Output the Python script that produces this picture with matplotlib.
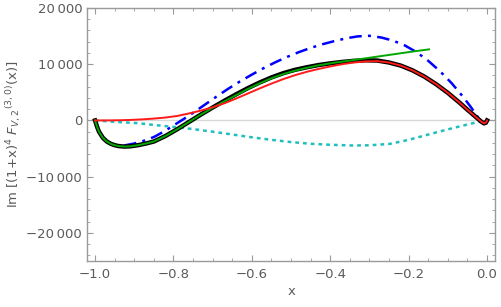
import matplotlib
matplotlib.use("Agg")
import matplotlib.pyplot as plt
from matplotlib.ticker import FixedLocator, MultipleLocator, FuncFormatter

# full result (black)
x_full = [-1.0, -0.995, -0.99, -0.98, -0.97, -0.96, -0.95, -0.94, -0.925, -0.91, -0.89, -0.87,
          -0.85, -0.82, -0.79, -0.76, -0.73, -0.70, -0.67, -0.64, -0.61, -0.58, -0.55, -0.52,
          -0.49, -0.46, -0.43, -0.40, -0.37, -0.34, -0.31, -0.28, -0.25, -0.22, -0.19, -0.16,
          -0.13, -0.10, -0.07, -0.05, -0.035, -0.025, -0.015, -0.008, -0.003, 0.0]
y_full = [0, -1100, -2000, -3100, -3750, -4150, -4400, -4560, -4650, -4600, -4400, -4100,
          -3750, -2750, -1550, -250, 1050, 2300, 3500, 4650, 5750, 6750, 7650, 8400,
          9000, 9450, 9850, 10150, 10400, 10600, 10700, 10650, 10300, 9750, 8900, 7800,
          6450, 4900, 3150, 1900, 1000, 400, -200, -520, -400, 0]

# expansion near threshold (green)
x_thr = [-1.0, -0.995, -0.99, -0.98, -0.97, -0.96, -0.95, -0.94, -0.925, -0.91, -0.89, -0.87,
         -0.85, -0.82, -0.79, -0.76, -0.73, -0.70, -0.67, -0.64, -0.61, -0.58, -0.55, -0.52,
         -0.49, -0.46, -0.43, -0.40, -0.37, -0.34, -0.31, -0.28, -0.25, -0.22, -0.19, -0.16, -0.148]
y_thr = [0, -1100, -2000, -3100, -3750, -4150, -4400, -4560, -4650, -4600, -4400, -4100,
         -3750, -2750, -1550, -250, 1050, 2250, 3400, 4500, 5600, 6600, 7500, 8250,
         8850, 9350, 9800, 10150, 10450, 10750, 11050, 11350, 11650, 11950, 12250, 12530, 12640]

# expansion (red)
x_exp = [-1.0, -0.97, -0.94, -0.91, -0.88, -0.85, -0.82, -0.79, -0.76, -0.73, -0.70, -0.67,
         -0.64, -0.61, -0.58, -0.55, -0.52, -0.49, -0.46, -0.43, -0.40, -0.37, -0.34, -0.31,
         -0.28, -0.25, -0.22, -0.19, -0.16, -0.13, -0.10, -0.07, -0.05, -0.035, -0.025, -0.015,
         -0.008, -0.003, 0.0]
y_exp = [0, 5, 30, 90, 190, 330, 520, 800, 1250, 1750, 2350, 3050,
         3900, 4800, 5700, 6550, 7350, 8050, 8650, 9150, 9600, 10000, 10300, 10500,
         10550, 10300, 9750, 8900, 7800, 6450, 4900, 3150, 1900, 1000, 400, -200,
         -520, -400, 0]

# blue dash-dot
x_blue = [-0.926, -0.90, -0.875, -0.85, -0.825, -0.80, -0.775, -0.75, -0.72, -0.69, -0.66,
          -0.63, -0.60, -0.57, -0.54, -0.51, -0.48, -0.45, -0.42, -0.39, -0.36, -0.33,
          -0.30, -0.27, -0.24, -0.21, -0.18, -0.15, -0.12, -0.09, -0.06, -0.04, -0.027, -0.018]
y_blue = [-4460, -4100, -3600, -2950, -2000, -900, 200, 1350, 2800, 4250, 5650,
          6950, 8150, 9300, 10350, 11300, 12150, 12900, 13550, 14100, 14600, 14950,
          15050, 14750, 14200, 13350, 12150, 10600, 8750, 6600, 4100, 2250, 950, 0]

# cyan dotted
x_cyan = [-1.0, -0.95, -0.892, -0.85, -0.80, -0.757, -0.70, -0.65, -0.60, -0.55, -0.50,
          -0.45, -0.40, -0.341, -0.30, -0.248, -0.20, -0.163, -0.12, -0.078, -0.05, -0.031, -0.02]
y_cyan = [0, -250, -480, -800, -1150, -1480, -2000, -2500, -3000, -3450, -3850,
          -4150, -4330, -4460, -4420, -4170, -3450, -2750, -1950, -1200, -720, -400, -250]

x_ticks = [-1.0, -0.8, -0.6, -0.4, -0.2, 0.0]
y_ticks = [-20000, -10000, 0, 10000, 20000]

frame_col = "#9a9a9a"
text_col = "#5a5a5a"

fig = plt.figure(figsize=(5.01, 3.07), dpi=100)
ax = fig.add_axes([0.1737, 0.1498, 0.8153, 0.8242])

ax.axhline(0, color="#d8d8d8", lw=1.0, zorder=1)
ax.plot(x_full, y_full, color="black", lw=3.2, zorder=3)
ax.plot(x_thr, y_thr, color="#00a800", lw=1.4, zorder=4)
ax.plot(x_exp, y_exp, color="#ff1a1a", lw=1.4, zorder=5)
ax.plot(x_blue, y_blue, color="#0000ff", lw=1.8, dashes=(5, 2.5, 1.2, 2.5), zorder=2)
ax.plot(x_cyan, y_cyan, color="#20bfbf", lw=1.8, dashes=(1.5, 1.6), zorder=2)

ax.set_xlim(-1.0205, 0.0215)
ax.set_ylim(-25000, 20000)

ax.xaxis.set_major_locator(FixedLocator(x_ticks))
ax.xaxis.set_minor_locator(MultipleLocator(0.05))
ax.yaxis.set_major_locator(FixedLocator(y_ticks))
ax.yaxis.set_minor_locator(MultipleLocator(2000))


def fmt_x(v, pos):
    s = f"{v:.1f}"
    return s.replace("-", "\u2212") if v < 0 else "0.0"


def fmt_y(v, pos):
    if v == 0:
        return "0"
    s = f"{abs(int(v)):,}".replace(",", "\u2009")
    return ("\u2212" + s) if v < 0 else s


ax.xaxis.set_major_formatter(FuncFormatter(fmt_x))
ax.yaxis.set_major_formatter(FuncFormatter(fmt_y))

for sp in ax.spines.values():
    sp.set_color(frame_col)
    sp.set_linewidth(1.0)

ax.tick_params(which="both", direction="in", top=True, right=True, color=frame_col,
               labelcolor=text_col, labelsize=9.5)
ax.tick_params(which="major", length=4, width=0.8)
ax.tick_params(which="minor", length=2.2, width=0.6)
ax.tick_params(axis="x", pad=5)

plt.rcParams["mathtext.fontset"] = "dejavusans"
ax.set_xlabel("x", color=text_col, fontsize=9.5, labelpad=3)
ax.set_ylabel(r"Im [(1+x)$^4$ $F_{V,2}{}^{\mathrm{(3,0)}}$(x)]", color=text_col, fontsize=9.5,
              labelpad=2)

fig.savefig("out.png", dpi=100)
